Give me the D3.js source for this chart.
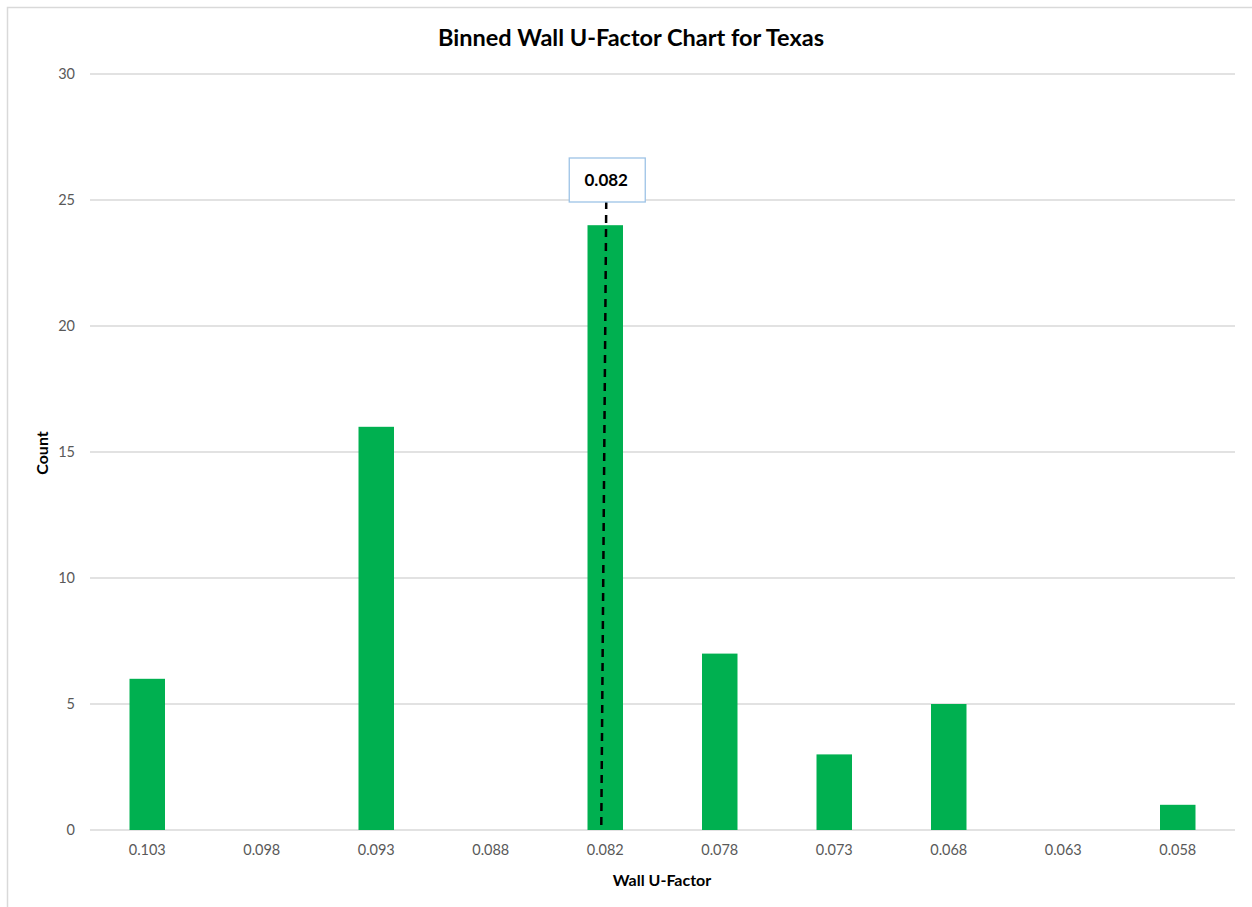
<!DOCTYPE html>
<html><head><meta charset="utf-8">
<script src="https://cdn.jsdelivr.net/npm/d3@7/dist/d3.min.js"></script>
<style>body{margin:0;background:#fff;} svg{display:block;font-family:Lato,"Open Sans",sans-serif;}</style>
</head><body>
<svg id="c" width="1252" height="907"></svg>
<script>
const categories = ["0.103","0.098","0.093","0.088","0.082","0.078","0.073","0.068","0.063","0.058"];
const counts = [6,0,16,0,24,7,3,5,0,1];
const yTicks = [0,5,10,15,20,25,30];
const markerCategory = "0.082";
const markerLabel = "0.082";

const svg = d3.select("#c");
svg.append("rect").attr("x",7.5).attr("y",7.5).attr("width",1270).attr("height",920)
  .attr("fill","#fff").attr("stroke","#d9d9d9").attr("stroke-width",1.5);

const m = {left:90, right:1235, top:74, bottom:830};
const x = d3.scaleBand().domain(categories).range([m.left,m.right]).paddingInner(0.69).paddingOuter(0.345);
const y = d3.scaleLinear().domain([0,30]).range([m.bottom,m.top]);

// grid
svg.append("g").selectAll("line").data(yTicks).join("line")
  .attr("x1",m.left).attr("x2",m.right)
  .attr("y1",d=>y(d)).attr("y2",d=>y(d))
  .attr("stroke","#d9d9d9").attr("stroke-width",1.3);

// y axis labels
const ya = svg.append("g").attr("transform",`translate(${m.left-15},0)`)
  .call(d3.axisLeft(y).tickValues(yTicks).tickSize(0).tickPadding(0));
ya.select(".domain").remove();
ya.selectAll("text").attr("font-size",14.5).attr("fill","#595959").attr("font-family","Lato,'Open Sans',sans-serif");

// bars
svg.append("g").selectAll("rect").data(counts).join("rect")
  .attr("x",(d,i)=>x(categories[i]))
  .attr("width",x.bandwidth())
  .attr("y",d=>y(d)).attr("height",d=>y(0)-y(d))
  .attr("fill","#00b050");

// x axis labels
const xa = svg.append("g").attr("transform",`translate(0,${m.bottom+10})`)
  .call(d3.axisBottom(x).tickSize(0).tickPadding(5));
xa.select(".domain").remove();
xa.selectAll("text").attr("font-size",14.5).attr("fill","#595959").attr("font-family","Lato,'Open Sans',sans-serif");

// marker
const cx = x(markerCategory) + x.bandwidth()/2;
svg.append("line").attr("x1",cx+1).attr("x2",cx-4).attr("y1",y(25)+1).attr("y2",y(0))
  .attr("stroke","#000").attr("stroke-width",2.5).attr("stroke-dasharray","8,6");
svg.append("rect").attr("x",cx-36).attr("y",158).attr("width",76).attr("height",44)
  .attr("fill","#fff").attr("stroke","#9dc3e6").attr("stroke-width",1.3);
svg.append("text").attr("x",cx+1).attr("y",186).attr("text-anchor","middle")
  .attr("font-size",17).attr("font-weight","bold").attr("fill","#000").text(markerLabel);

// title
svg.append("text").attr("x",631).attr("y",46).attr("text-anchor","middle")
  .attr("font-size",23.5).attr("font-weight","bold").attr("fill","#000").text("Binned Wall U-Factor Chart for Texas");
// axis titles
svg.append("text").attr("x",662).attr("y",886).attr("text-anchor","middle")
  .attr("font-size",16).attr("font-weight","bold").attr("fill","#000").text("Wall U-Factor");
svg.append("text").attr("transform","translate(48,453) rotate(-90)").attr("text-anchor","middle")
  .attr("font-size",16).attr("font-weight","bold").attr("fill","#000").text("Count");
</script>
</body></html>
